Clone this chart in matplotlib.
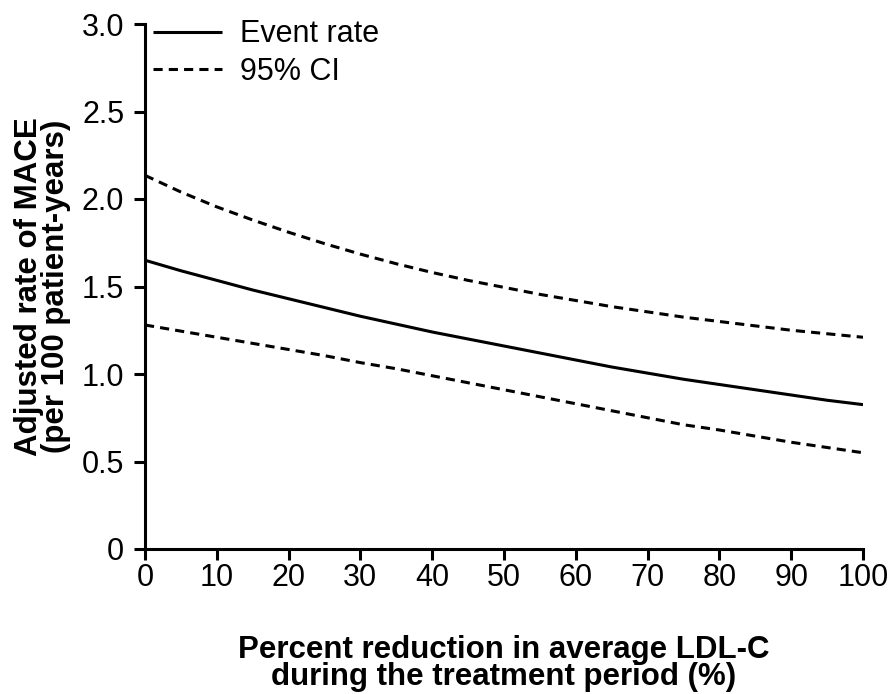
import matplotlib
matplotlib.use("Agg")
import matplotlib.pyplot as plt

plt.rcParams['font.family'] = ['Liberation Sans', 'DejaVu Sans']

x_reduction = [0, 5, 10, 15, 20, 25, 30, 35, 40, 45, 50,
               55, 60, 65, 70, 75, 80, 85, 90, 95, 100]
event_rate = [1.65, 1.59, 1.535, 1.48, 1.43, 1.38, 1.33, 1.285, 1.24, 1.20, 1.16,
              1.12, 1.08, 1.04, 1.005, 0.97, 0.94, 0.91, 0.88, 0.85, 0.825]
ci_upper = [2.135, 2.04, 1.955, 1.88, 1.81, 1.745, 1.685, 1.63, 1.58, 1.535, 1.495,
            1.455, 1.42, 1.385, 1.355, 1.325, 1.30, 1.275, 1.25, 1.23, 1.21]
ci_lower = [1.28, 1.245, 1.21, 1.175, 1.14, 1.105, 1.065, 1.03, 0.99, 0.95, 0.91,
            0.87, 0.83, 0.79, 0.75, 0.71, 0.68, 0.645, 0.61, 0.58, 0.55]

x_ticks = [0, 10, 20, 30, 40, 50, 60, 70, 80, 90, 100]
y_ticks = [0, 0.5, 1.0, 1.5, 2.0, 2.5, 3.0]
y_ticklabels = ['0', '0.5', '1.0', '1.5', '2.0', '2.5', '3.0']

W, H = 891, 694
fig = plt.figure(figsize=(W / 100, H / 100), dpi=100)
ax = fig.add_axes([145 / W, 1 - 549 / H, (863 - 145) / W, (549 - 24) / H])

lw = 2.2
ax.plot(x_reduction, event_rate, color='black', lw=lw, label='Event rate',
        solid_capstyle='butt')
ax.plot(x_reduction, ci_upper, color='black', lw=lw, dashes=(3, 2), label='95% CI')
ax.plot(x_reduction, ci_lower, color='black', lw=lw, dashes=(3, 2))

ax.set_xlim(0, 100)
ax.set_ylim(0, 3.0)
ax.set_xticks(x_ticks)
ax.set_xticklabels([str(v) for v in x_ticks])
ax.set_yticks(y_ticks)
ax.set_yticklabels(y_ticklabels)

for s in ['top', 'right']:
    ax.spines[s].set_visible(False)
for s in ['left', 'bottom']:
    ax.spines[s].set_linewidth(lw)
    ax.spines[s].set_capstyle('projecting')

ax.tick_params(axis='both', direction='out', length=8, width=lw,
               labelsize=22, colors='black')
ax.tick_params(axis='x', pad=2)
ax.tick_params(axis='y', pad=7)

ax.set_xlabel('Percent reduction in average LDL-C\nduring the treatment period (%)',
              fontsize=22.5, fontweight='bold', labelpad=30, linespacing=0.9)
ax.set_ylabel('Adjusted rate of MACE\n(per 100 patient-years)',
              fontsize=22.5, fontweight='bold', labelpad=8, linespacing=0.85)

ax.legend(loc='upper left', bbox_to_anchor=(0.011, 1.009), frameon=False,
          fontsize=22, handlelength=2.26, handletextpad=0.6, labelspacing=0.25,
          borderaxespad=0.0, borderpad=0.0)

fig.savefig('out.png', dpi=100)
